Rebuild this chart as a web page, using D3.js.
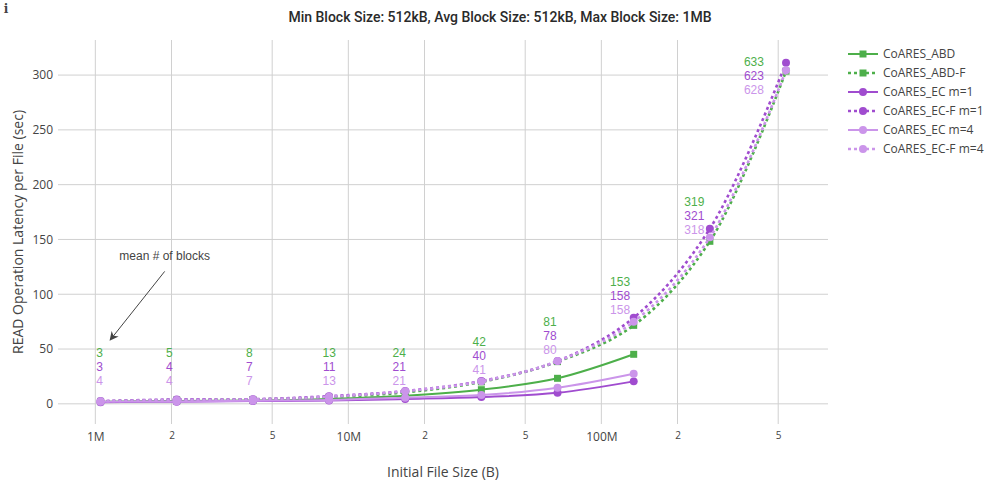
<!DOCTYPE html>
<html>
<head>
<meta charset="utf-8">
<script src="https://cdn.jsdelivr.net/npm/d3@7"></script>
<style>
  body { margin: 0; background: #fff; }
  svg { display: block; }
  text { fill: #444; }
</style>
</head>
<body>
<div id="chart"><svg width="1001" height="501"></svg></div>
<script>
// file sizes in MiB
var sizesMiB = [1, 2, 4, 8, 16, 32, 64, 128, 256, 512];

// read latency per file (sec)
var abd = [2.0, 2.5, 3.0, 4.5, 7.4, 12.9, 23.3, 45.2];
var abdF = [2.2, 3.5, 4.0, 6.0, 10.5, 20.0, 38.5, 71.6, 148.3, 303.6];
var ecM1 = [1.5, 2.0, 2.5, 3.0, 4.4, 6.2, 10.1, 20.5];
var ecFM1 = [2.5, 4.0, 4.2, 7.0, 11.7, 20.8, 39.0, 78.6, 159.8, 311.2];
var ecM4 = [1.8, 2.2, 2.8, 3.5, 5.6, 8.0, 14.7, 27.5];
var ecFM4 = [2.3, 3.6, 4.0, 6.5, 11.5, 20.5, 39.0, 74.9, 151.9, 304.3];

// mean # of blocks labels
var blocksAbd = [3, 5, 8, 13, 24, 42, 81, 153, 319, 633];
var blocksEcM1 = [3, 4, 7, 11, 21, 40, 78, 158, 321, 623];
var blocksEcM4 = [4, 4, 7, 13, 21, 41, 80, 158, 318, 628];
var labelX = [1.04e6, 1.96e6, 4.06e6, 8.4e6, 15.9e6, 32.9e6, 62.6e6, 118.6e6, 233e6, 401e6];
var labelY = [46.6, 46.6, 46.6, 46.6, 46.6, 56.6, 74.9, 111.4, 184.4, 312.1];

var xTicks = [1e6, 2e6, 5e6, 1e7, 2e7, 5e7, 1e8, 2e8, 5e8];
var xTickLabels = ['1M', '2', '5', '10M', '2', '5', '100M', '2', '5'];
var yTicks = [0, 50, 100, 150, 200, 250, 300];

var green = '#4daf4a';
var purple = '#a04ccf';
var lilac = '#cb95ea';

var series = [
	{ name: 'CoARES_ABD', values: abd, color: green, dotted: false, symbol: 'square' },
	{ name: 'CoARES_ABD-F', values: abdF, color: green, dotted: true, symbol: 'square' },
	{ name: 'CoARES_EC m=1', values: ecM1, color: purple, dotted: false, symbol: 'circle' },
	{ name: 'CoARES_EC-F m=1', values: ecFM1, color: purple, dotted: true, symbol: 'circle' },
	{ name: 'CoARES_EC m=4', values: ecM4, color: lilac, dotted: false, symbol: 'circle' },
	{ name: 'CoARES_EC-F m=4', values: ecFM4, color: lilac, dotted: true, symbol: 'circle' }
];

var margin = { top: 40, left: 58, right: 173, bottom: 77 };
var svg = d3.select('#chart > svg');
var width = 1001 - margin.left - margin.right;
var height = 501 - margin.top - margin.bottom;

var xScale = d3.scaleLog()
	.domain([0.712e6, 786.6e6])
	.range([0, width]);
var yScale = d3.scaleLinear()
	.domain([-18.4, 332])
	.range([height, 0]);

var g = svg.append('g')
	.attr('transform', 'translate(' + [margin.left, margin.top] + ')');

// grids
g.append('g').selectAll('line.xg')
	.data(xTicks)
	.enter().append('line')
	.attr('x1', function(d) { return xScale(d); })
	.attr('x2', function(d) { return xScale(d); })
	.attr('y1', 0)
	.attr('y2', height)
	.attr('stroke', '#d0d0d0')
	.attr('stroke-width', 1);
g.append('g').selectAll('line.yg')
	.data(yTicks)
	.enter().append('line')
	.attr('x1', 0)
	.attr('x2', width)
	.attr('y1', function(d) { return yScale(d); })
	.attr('y2', function(d) { return yScale(d); })
	.attr('stroke', '#d0d0d0')
	.attr('stroke-width', 1);

// axes (labels only, plotly-like)
var xAxis = d3.axisBottom(xScale)
	.tickValues(xTicks)
	.tickSize(0)
	.tickPadding(8)
	.tickFormat(function(d, i) { return xTickLabels[i]; });
var xAxisG = g.append('g')
	.attr('transform', 'translate(0,' + height + ')')
	.call(xAxis);
xAxisG.select('.domain').remove();
xAxisG.selectAll('text')
	.style('font-family', '"Open Sans", sans-serif')
	.style('font-size', function(d, i) { return xTickLabels[i].length > 1 ? '12px' : '10px'; })
	.attr('fill', '#444');

var yAxis = d3.axisLeft(yScale)
	.tickValues(yTicks)
	.tickSize(0)
	.tickPadding(5);
var yAxisG = g.append('g').call(yAxis);
yAxisG.select('.domain').remove();
yAxisG.selectAll('text')
	.style('font-family', '"Open Sans", sans-serif')
	.style('font-size', '12px')
	.attr('fill', '#444');

// lines
var line = d3.line()
	.x(function(d) { return xScale(d.x); })
	.y(function(d) { return yScale(d.y); })
	.curve(d3.curveCatmullRom.alpha(0.5));

function points(s) {
	return s.values.map(function(v, i) { return { x: sizesMiB[i] * 1048576, y: v }; });
}

var plot = g.append('g').attr('class', 'plot');
series.forEach(function(s) {
	var sg = plot.append('g');
	sg.append('path')
		.datum(points(s))
		.attr('d', line)
		.attr('fill', 'none')
		.attr('stroke', s.color)
		.attr('stroke-width', s.dotted ? 2.6 : 2)
		.attr('stroke-dasharray', s.dotted ? '3,3' : null);
	var sym = d3.symbol()
		.type(s.symbol === 'square' ? d3.symbolSquare : d3.symbolCircle)
		.size(s.symbol === 'square' ? 49 : 50);
	sg.selectAll('path.pt')
		.data(points(s))
		.enter().append('path')
		.attr('class', 'pt')
		.attr('d', sym)
		.attr('transform', function(d) { return 'translate(' + [xScale(d.x), yScale(d.y)] + ')'; })
		.attr('fill', s.color);
});

// block count labels
var labelRows = [
	{ values: blocksAbd, color: green },
	{ values: blocksEcM1, color: purple },
	{ values: blocksEcM4, color: lilac }
];
labelRows.forEach(function(row, r) {
	g.append('g').selectAll('text')
		.data(row.values)
		.enter().append('text')
		.attr('x', function(d, i) { return xScale(labelX[i]); })
		.attr('y', function(d, i) { return yScale(labelY[i]) + r * 14; })
		.attr('dy', '0.35em')
		.attr('text-anchor', 'middle')
		.style('font-family', '"Liberation Sans", Arial, sans-serif')
		.style('font-size', '12px')
		.style('fill', row.color)
		.text(function(d) { return d; });
});

// annotation
var tipX = xScale(1.15e6), tipY = yScale(58.8);
svg.append('defs').append('marker')
	.attr('id', 'arrow')
	.attr('viewBox', '0 0 10 10')
	.attr('refX', 8)
	.attr('refY', 5)
	.attr('markerWidth', 9)
	.attr('markerHeight', 9)
	.attr('markerUnits', 'userSpaceOnUse')
	.attr('orient', 'auto')
	.append('path')
	.attr('d', 'M0,0 L10,5 L0,10 L3,5 Z')
	.attr('fill', '#444');
g.append('line')
	.attr('x1', tipX + 54)
	.attr('y1', tipY - 68)
	.attr('x2', tipX)
	.attr('y2', tipY)
	.attr('stroke', '#444')
	.attr('stroke-width', 1)
	.attr('marker-end', 'url(#arrow)');
g.append('text')
	.attr('x', tipX + 54)
	.attr('y', tipY - 84)
	.attr('dy', '0.35em')
	.attr('text-anchor', 'middle')
	.style('font-family', '"Liberation Sans", Arial, sans-serif')
	.style('font-size', '12px')
	.text('mean # of blocks');

// titles
svg.append('text')
	.attr('x', 500)
	.attr('y', 17)
	.attr('dy', '0.35em')
	.attr('text-anchor', 'middle')
	.style('font-family', 'Roboto, sans-serif')
	.style('font-size', '14px')
	.style('font-weight', 500)
	.style('fill', '#2a2a2a')
	.text('Min Block Size: 512kB, Avg Block Size: 512kB, Max Block Size: 1MB');
svg.append('text')
	.attr('x', margin.left + width / 2)
	.attr('y', 472)
	.attr('dy', '0.35em')
	.attr('text-anchor', 'middle')
	.style('font-family', '"Open Sans", sans-serif')
	.style('font-size', '14px')
	.text('Initial File Size (B)');
svg.append('text')
	.attr('transform', 'translate(18,' + (margin.top + height / 2) + ') rotate(-90)')
	.attr('dy', '0.35em')
	.attr('text-anchor', 'middle')
	.style('font-family', '"Open Sans", sans-serif')
	.style('font-size', '14px')
	.text('READ Operation Latency per File (sec)');
svg.append('text')
	.attr('x', 6)
	.attr('y', 13)
	.attr('text-anchor', 'middle')
	.style('font-family', '"DejaVu Serif", serif')
	.style('font-size', '12px')
	.style('font-weight', 'bold')
	.text('i');

// legend
var legend = svg.append('g').attr('transform', 'translate(848,54)');
series.forEach(function(s, i) {
	var item = legend.append('g').attr('transform', 'translate(0,' + i * 19 + ')');
	item.append('line')
		.attr('x1', 0)
		.attr('x2', 30)
		.attr('stroke', s.color)
		.attr('stroke-width', s.dotted ? 2.6 : 2)
		.attr('stroke-dasharray', s.dotted ? '3,3' : null);
	item.append('path')
		.attr('d', d3.symbol().type(s.symbol === 'square' ? d3.symbolSquare : d3.symbolCircle).size(s.symbol === 'square' ? 49 : 50))
		.attr('transform', 'translate(15,0)')
		.attr('fill', s.color);
	item.append('text')
		.attr('x', 35)
		.attr('dy', '0.35em')
		.style('font-family', '"Open Sans", sans-serif')
		.style('font-size', '12px')
		.text(s.name);
});
</script>
</body>
</html>
